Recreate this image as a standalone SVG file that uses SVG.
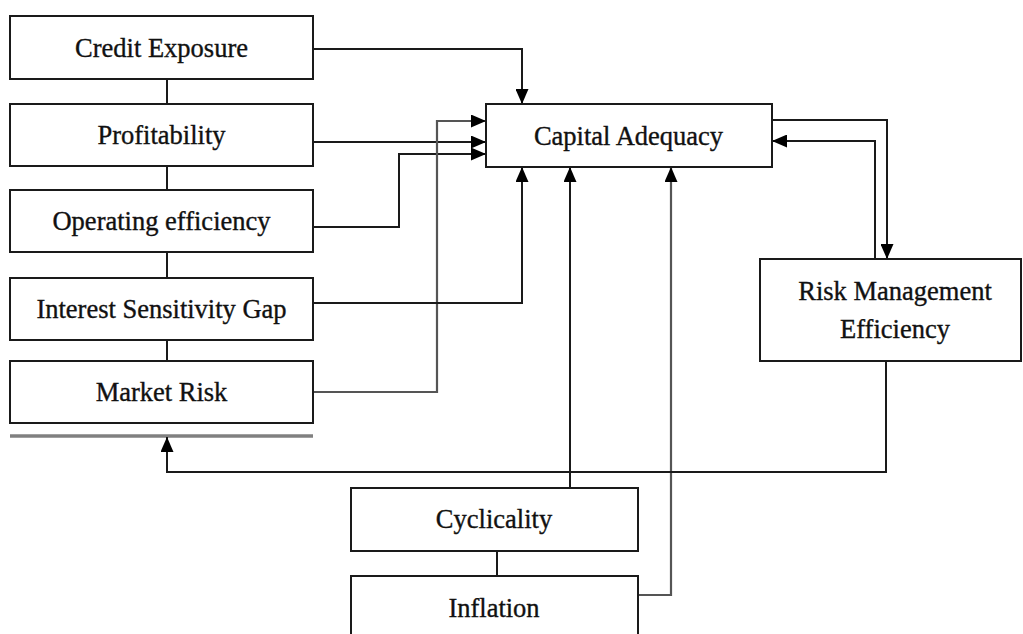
<svg xmlns="http://www.w3.org/2000/svg" width="1023" height="634" viewBox="0 0 1023 634">
<defs>
<style>
.box{fill:#fff;stroke:#1a1a1a;stroke-width:2}
.lbl{font-family:"Liberation Serif","Times New Roman",serif;font-size:26.5px;fill:#111;stroke:#111;stroke-width:0.35;text-anchor:middle}
.c{fill:none;stroke:#1a1a1a;stroke-width:2}
.g{fill:none;stroke:#555;stroke-width:2.2}
.a{marker-end:url(#ah)}
</style>
<marker id="ah" viewBox="0 0 15 13" refX="15" refY="6.5" markerWidth="15" markerHeight="13" orient="auto" markerUnits="userSpaceOnUse">
<path d="M0,0 L15,6.5 L0,13 z" fill="#000"/>
</marker>
</defs>
<rect width="1023" height="634" fill="#fff"/>
<g id="connectors">
<line class="c" x1="167" y1="79" x2="167" y2="104"/>
<line class="c" x1="167" y1="166" x2="167" y2="190"/>
<line class="c" x1="167" y1="252" x2="167" y2="278"/>
<line class="c" x1="167" y1="340" x2="167" y2="361"/>
<line class="c" x1="497" y1="551" x2="497" y2="576"/>
<line x1="10" y1="436" x2="313" y2="436" stroke="#808080" stroke-width="3.5"/>
<polyline class="c a" points="313,49 522,49 522,104"/>
<polyline class="c a" points="313,142 486,142"/>
<polyline class="c a" points="313,227 399,227 399,154 486,154"/>
<polyline class="g a" points="313,392 437,392 437,121 486,121"/>
<polyline class="c a" points="313,303 522,303 522,167"/>
<polyline class="c a" points="570,488 570,167"/>
<polyline class="g a" points="638,595 671,595 671,167"/>
<polyline class="c a" points="772,120 887,120 887,259"/>
<polyline class="c a" points="875,259 875,141 772,141"/>
<polyline class="c a" points="886,361 886,472 167,472 167,437"/>
</g>
<g id="credit-exposure"><rect class="box" x="10" y="16" width="303" height="63"/><text class="lbl" x="161.5" y="57">Credit Exposure</text></g>
<g id="profitability"><rect class="box" x="10" y="104" width="303" height="62"/><text class="lbl" x="161.5" y="144">Profitability</text></g>
<g id="operating-efficiency"><rect class="box" x="10" y="190" width="303" height="62"/><text class="lbl" x="161.5" y="230">Operating efficiency</text></g>
<g id="interest-sensitivity-gap"><rect class="box" x="10" y="278" width="303" height="62"/><text class="lbl" x="161.5" y="318">Interest Sensitivity Gap</text></g>
<g id="market-risk"><rect class="box" x="10" y="361" width="303" height="62"/><text class="lbl" x="161.5" y="401">Market Risk</text></g>
<g id="capital-adequacy"><rect class="box" x="486" y="104" width="286" height="63"/><text class="lbl" x="628.5" y="144.5">Capital Adequacy</text></g>
<g id="risk-management-efficiency"><rect class="box" x="760" y="259" width="261" height="102"/><text class="lbl" x="895" y="300">Risk Management</text><text class="lbl" x="895" y="338">Efficiency</text></g>
<g id="cyclicality"><rect class="box" x="351" y="488" width="287" height="63"/><text class="lbl" x="494" y="528">Cyclicality</text></g>
<g id="inflation"><rect class="box" x="351" y="576" width="287" height="70"/><text class="lbl" x="494" y="617">Inflation</text></g>
</svg>
